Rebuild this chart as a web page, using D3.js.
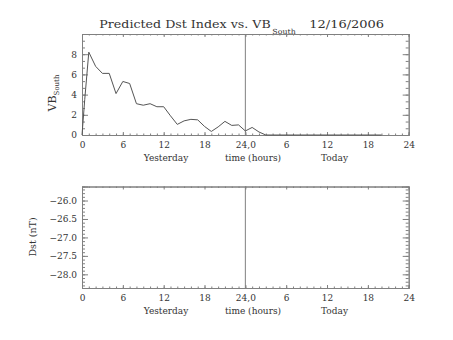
<!DOCTYPE html>
<html><head><meta charset="utf-8">
<script src="https://cdn.jsdelivr.net/npm/d3@7"></script>
<style>
body{margin:0;background:#fff;}
text{font-family:"DejaVu Serif","Liberation Serif",serif;fill:#333;}
</style></head>
<body><svg id="c" width="453" height="340"></svg>
<script>
// ---- data ----
const hours = [0,0.4,1,2,3,4,5,6,7,8,9,10,11,12,13,14,15,16,17,18,19,20,21,22,23,24,25,26,27,28,29,30,31,32,33,34,35,36,37,38,39,40,41,42,43,44];
const vbSouth = [0,3.5,8.2,6.8,6.1,6.1,4.1,5.3,5.1,3.1,2.95,3.1,2.8,2.8,1.9,1.05,1.4,1.55,1.5,0.85,0.35,0.8,1.35,0.95,1.0,0.4,0.75,0.3,0,0,0,0,0,0,0,0,0,0,0,0,0,0,0,0,0,0];
const dstValues = [];
const xMajor = [0,6,12,18,24,30,36,42,48];
const xTickLabels = ["0","6","12","18","24,0","6","12","18","24"];
const vbTicks = [0,2,4,6,8];
const dstTicks = [-26.0,-26.5,-27.0,-27.5,-28.0];
const titleText = "Predicted Dst Index vs. VB";
const titleSub = "South";
const titleDate = "12/16/2006";

const svg = d3.select("#c");
const axisCol = "#808080", lineCol = "#555";
const L = 82, R = 408.7;
const x = d3.scaleLinear().domain([0,48]).range([L,R]);

function panel(top, bottom, yDomain, yTicks, yMinor, yFmt, xLabelY) {
  const y = d3.scaleLinear().domain(yDomain).range([bottom, top]);
  const g = svg.append("g");
  const xMinor = d3.range(0,49,1);
  g.append("g").attr("transform",`translate(0,${bottom})`)
    .call(d3.axisBottom(x).tickValues(xMajor).tickSize(-3).tickPadding(7).tickFormat((d,i)=>xTickLabels[i]));
  g.append("g").attr("transform",`translate(0,${bottom})`)
    .call(d3.axisBottom(x).tickValues(xMinor).tickSize(-1.5).tickFormat(""));
  g.append("g").attr("transform",`translate(0,${top})`)
    .call(d3.axisTop(x).tickValues(xMajor).tickSize(-3).tickFormat(""));
  g.append("g").attr("transform",`translate(0,${top})`)
    .call(d3.axisTop(x).tickValues(xMinor).tickSize(-1.5).tickFormat(""));
  g.append("g").attr("transform",`translate(${L},0)`)
    .call(d3.axisLeft(y).tickValues(yTicks).tickSize(-6).tickPadding(5).tickFormat(yFmt));
  g.append("g").attr("transform",`translate(${L},0)`)
    .call(d3.axisLeft(y).tickValues(yMinor).tickSize(-3).tickFormat(""));
  g.append("g").attr("transform",`translate(${R},0)`)
    .call(d3.axisRight(y).tickValues(yTicks).tickSize(-6).tickFormat(""));
  g.append("g").attr("transform",`translate(${R},0)`)
    .call(d3.axisRight(y).tickValues(yMinor).tickSize(-3).tickFormat(""));
  g.selectAll(".domain").attr("stroke",axisCol).attr("stroke-width",1);
  g.selectAll(".tick line").attr("stroke",axisCol);
  g.selectAll(".tick text").attr("font-size","9px").attr("fill","#333")
    .attr("font-family",'"DejaVu Serif","Liberation Serif",serif');
  g.append("line").attr("x1",x(24)).attr("x2",x(24)).attr("y1",top).attr("y2",bottom)
    .attr("stroke",axisCol).attr("stroke-width",1);
  g.append("text").attr("x",166).attr("y",xLabelY).attr("text-anchor","middle").attr("font-size","9px").text("Yesterday");
  g.append("text").attr("x",253).attr("y",xLabelY).attr("text-anchor","middle").attr("font-size","9px").text("time (hours)");
  g.append("text").attr("x",334.5).attr("y",xLabelY).attr("text-anchor","middle").attr("font-size","9px").text("Today");
  return y;
}

const yTop = panel(34, 135, [0,10], vbTicks,
  [0,2/3,4/3,2,8/3,10/3,4,14/3,16/3,6,20/3,22/3,8,26/3,28/3,10], d3.format("d"), 161);
const yBot = panel(186.5, 288, [-28.37,-25.62], dstTicks,
  d3.range(-283,-256,1).map(v=>v/10), d3.format(".1f"), 314);

svg.append("path").datum(hours.map((h,i)=>[h,vbSouth[i]]))
  .attr("fill","none").attr("stroke",lineCol).attr("stroke-width",1)
  .attr("d", d3.line().x(d=>x(d[0])).y(d=>yTop(d[1])));

const vb = svg.append("text").attr("transform","translate(55.5,93) rotate(-90)")
  .attr("text-anchor","middle").attr("font-size","11px");
vb.append("tspan").text("VB");
vb.append("tspan").attr("font-size","7px").attr("dy","3.5").text("South");
svg.append("text").attr("transform","translate(35.5,237) rotate(-90)")
  .attr("text-anchor","middle").attr("font-size","9.5px").text("Dst (nT)");

svg.append("text").attr("x",99.3).attr("y",28).attr("font-size","11px")
  .attr("textLength",171.4).attr("lengthAdjust","spacingAndGlyphs").text(titleText);
svg.append("text").attr("x",272.3).attr("y",33.5).attr("font-size","7px")
  .attr("textLength",23.4).attr("lengthAdjust","spacingAndGlyphs").text(titleSub);
svg.append("text").attr("x",309.3).attr("y",28).attr("font-size","11px")
  .attr("textLength",74.7).attr("lengthAdjust","spacingAndGlyphs").text(titleDate);
</script></body></html>
